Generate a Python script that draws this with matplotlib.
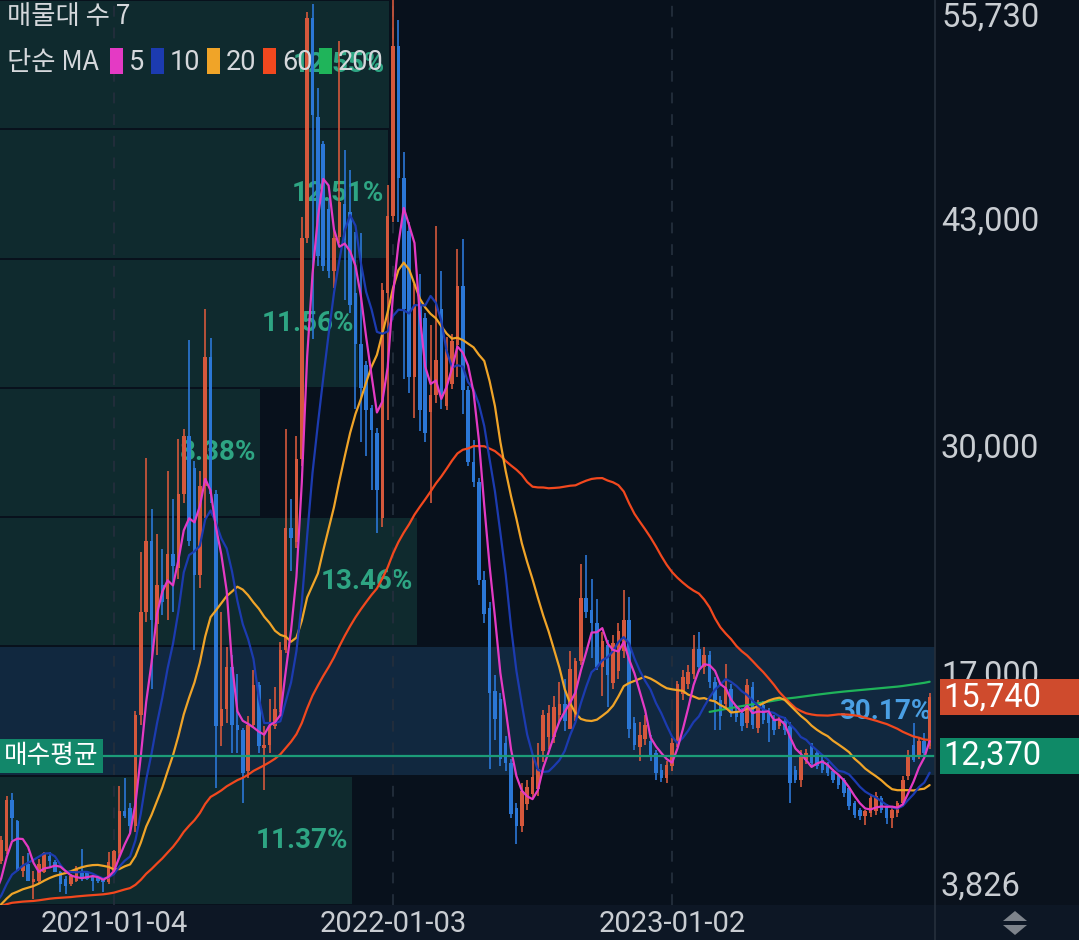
import numpy as np
import pandas as pd
import matplotlib
matplotlib.use('Agg')
import matplotlib.pyplot as plt
from matplotlib.patches import Rectangle, Polygon

plt.rcParams['font.family'] = ['Roboto', 'Noto Sans CJK KR', 'DejaVu Sans']

# ---------------- data ----------------
first_week = '2020-08-10'
tick_dates = ['2021-01-04', '2022-01-03', '2023-01-02']

# weekly closes before the visible window (only feed the moving averages)
hidden_closes = [4100, 4200, 4050, 3950, 4000, 4150, 4300, 4250, 4100, 3980, 3900, 3950, 4050, 4100,
                 4000, 3900, 3850, 3800, 3900, 3950, 3870, 3800, 3750, 3820, 3900, 3850, 3780, 3720,
                 3700, 3650, 3600, 3550, 3500, 3600, 3680, 3720, 3650, 3580, 3520, 3480, 3450, 3500,
                 3560, 3600, 3550, 3500, 3450, 3400,
                 3380, 3350, 3300, 3320, 3400, 3450, 3420, 3380, 3350, 3330,
                 3300, 3350, 3400, 3380, 3450,
                 3800, 4300, 5000, 6200]

opens = [6370, 6950, 9840, 8625, 5800, 6200, 5160, 5220, 5740, 6660, 6310, 5740, 5330, 5040, 5220,
         5740, 5740, 5500, 5450, 5330, 5160,
         5800, 6780, 9200, 9380, 8340, 14750, 20640, 24690, 19950, 22200, 21390, 23930, 23130, 27400,
         30750, 28900, 22780, 27860, 35260, 27400, 14110, 15040, 17460, 14170, 13880, 11510, 14170,
         16420, 12840, 13020, 14110, 15040, 18450, 25440, 24630, 29420, 42070, 54670, 49010, 47450,
         43750, 40170, 42130, 44040, 43580, 38900, 36000, 34800, 32310, 30920, 26010, 38950, 43350,
         53110, 45500, 42480, 34100, 38260, 37510, 32080, 33060, 38000, 32430, 33700, 35950, 39300,
         33350, 29250, 28090, 22490, 20870, 16080, 15620, 13130, 11980, 9380, 8340, 9600, 10170,
         10470, 12670, 13480, 13480, 14750, 15330, 13940, 14630, 17810, 21450, 20760, 20000, 17460,
         18740, 16540, 17230, 18390, 20180, 14290, 12900, 13360, 13250, 12550, 11570, 11110, 11800,
         13130, 15900, 16480, 17060, 18500, 17460, 18160, 16600, 15560, 15330, 16200, 14980, 14860,
         14290, 16310, 14000, 15270, 14860, 14460, 14110, 14400, 14110, 11570, 11000, 12150, 12960,
         12550, 12150, 11860, 11510, 11230, 11000, 10530, 9665, 9260, 8910, 9090, 9200, 9950, 9490,
         8800, 9090, 9670, 11230, 13020, 12440, 13250, 12960]
highs = [7760, 10050, 10240, 8700, 6660, 6780, 5800, 6490, 6890, 6890, 6400, 5800, 5500, 5600, 6080,
         7060, 5800, 5560, 5500, 5400, 6890,
         7000, 10650, 11110, 9670, 14980, 24100, 29480, 26530, 25090, 24220, 28730, 27110, 30580,
         31150, 36240, 29300, 28730, 38000, 36350, 27600, 20640, 18620, 18160, 17060, 14000, 14690,
         17290, 16600, 14110, 15620, 16310, 18910, 31150, 27110, 30750, 43300, 55070, 55480, 50680,
         47620, 44300, 42650, 53400, 47100, 46000, 42400, 42360, 35000, 32500, 31200, 39500, 45140,
         55730, 54600, 47000, 43000, 39420, 40000, 37800, 37100, 42770, 40200, 36400, 36600, 41440,
         42000, 33600, 30500, 28300, 23000, 21200, 17000, 16000, 13500, 12200, 9700, 10800, 11000,
         12300, 13100, 15000, 15300, 15800, 16600, 16800, 18400, 18000, 23410, 23880, 22500, 21400,
         19500, 19000, 19300, 20000, 21910, 21500, 14600, 14300, 14700, 13600, 12700, 11900, 12100,
         13400, 16700, 17300, 17600, 19310, 19490, 18600, 18400, 16900, 15800, 17640, 16500, 15300,
         15100, 16770, 16600, 15600, 15500, 15100, 14700, 14600, 14600, 14300, 11800, 12700, 12800,
         13130, 12700, 12300, 12000, 11600, 11300, 11100, 10600, 9800, 9400, 9300, 10200, 10300,
         10100, 9600, 9400, 9800, 11200, 12700, 14290, 13400, 13700, 16000]
lows = [6200, 6760, 7530, 5750, 5450, 5200, 4180, 5040, 5680, 6030, 5700, 4580, 4470, 4900, 5150,
        5220, 5250, 4640, 5100, 4580, 5040,
        5700, 6600, 8800, 7930, 8000, 14170, 20060, 16200, 18160, 20470, 20180, 20640, 22550, 26900,
        24400, 18450, 21990, 26000, 26900, 10530, 12960, 14290, 12550, 12550, 9665, 11100, 14000,
        12550, 10420, 12550, 13900, 14900, 18300, 23000, 24300, 29000, 41800, 36300, 40500, 40200,
        39800, 39190, 41800, 38550, 37800, 32250, 30400, 29600, 27630, 25150, 25500, 31620, 43000,
        43000, 34000, 33180, 31730, 31000, 30400, 26880, 32600, 32300, 32200, 33400, 34100, 32000,
        29000, 27800, 22200, 20000, 11630, 13300, 11800, 11500, 8800, 7300, 8000, 9300, 9900, 10100,
        12000, 12800, 13100, 14300, 13800, 13900, 14400, 17600, 20300, 18000, 17300, 15800, 15210,
        16200, 16800, 18000, 13400, 12700, 12100, 13000, 12100, 11000, 10900, 10800, 11500, 12900,
        15600, 16200, 16800, 17200, 17100, 16300, 13880, 13880, 15000, 14600, 14300, 13800, 14000,
        13900, 13700, 14200, 13200, 13600, 13900, 13600, 9665, 10800, 10600, 11900, 11800, 11600,
        11400, 11200, 10800, 10500, 10000, 9300, 8800, 8700, 8400, 8900, 9000, 9100, 8500, 8220,
        8900, 9500, 11000, 12000, 12200, 12400, 12800]
closes = [7530, 9840, 8800, 5800, 6080, 5220, 5330, 6200, 6780, 6370, 5740, 5040, 4930, 5500, 5910,
          5450, 5330, 5220, 5220, 5160, 6310,
          6950, 9200, 8910, 8340, 14750, 20640, 24690, 20180, 22200, 21220, 23930, 23240, 27400,
          30750, 24690, 22780, 27860, 35260, 27400, 14110, 15040, 17460, 14170, 13880, 11400, 14170,
          16420, 12960, 13020, 14110, 15040, 18450, 25440, 24860, 29420, 42070, 54670, 49120, 41030,
          40460, 40170, 42070, 44150, 41960, 38260, 36000, 33500, 32200, 31040, 27630, 39070, 43350,
          53110, 45500, 38000, 34100, 38260, 32200, 30920, 33060, 35080, 33000, 35720, 36180, 39300,
          33350, 29250, 28090, 22490, 20530, 15960, 14520, 12210, 11980, 9030, 8340, 10360, 10590,
          11170, 11630, 14750, 14860, 15210, 15330, 14400, 17350, 17810, 21450, 20640, 20000, 17460,
          18970, 17000, 18850, 19540, 20180, 13940, 13020, 13590, 14170, 12440, 11400, 11110, 11860,
          13130, 16480, 16890, 17170, 18500, 17460, 18160, 16600, 15560, 14690, 16310, 14860, 14580,
          14110, 16420, 14170, 15330, 14460, 14290, 13880, 14400, 13880, 10820, 11000, 12380, 12550,
          11980, 11800, 11570, 11400, 11000, 10710, 10240, 9490, 8970, 8910, 9200, 9950, 10070, 9260,
          8800, 9260, 9670, 11000, 12440, 12150, 13250, 12550, 15740]

ma_periods = [5, 10, 20, 60, 200]
ma_colors = ['#e43ac4', '#1c3bb0', '#f0a428', '#f2481e', '#1fb45a']

band_pcts = [11.37, 30.17, 13.46, 8.38, 11.56, 12.51, 12.55]   # bottom -> top
band_labels = ['11.37%', '30.17%', '13.46%', '8.38%', '11.56%', '12.51%', '12.55%']
price_min, price_max = 3826, 55730
axis_ticks = [55730, 43000, 30000, 17000, 3826]
last_price = 15740
avg_price = 12370

# ---------------- figure ----------------
W, H = 1079, 940
fig = plt.figure(figsize=(W / 100, H / 100), dpi=100)
fig.patch.set_facecolor('#0a121d')

PL, PR, PT, PB = 0, 935, 0, 905   # plot rect in pixels
ax = fig.add_axes([PL / W, 1 - PB / H, (PR - PL) / W, (PB - PT) / H])
ax.set_facecolor('#08111c')
for s in ax.spines.values():
    s.set_visible(False)
ax.set_xticks([])
ax.set_yticks([])

n_hidden = len(hidden_closes)
n_vis = len(closes)
xl, xr = -0.24, 174.0
ax.set_xlim(xl, xr)
ax.set_ylim(price_min, price_max)

# volume profile bands
edges = np.linspace(price_min, price_max, len(band_pcts) + 1)
bh = edges[1] - edges[0]
gap = 115
mx = max(band_pcts)
for i, p in enumerate(band_pcts):
    lo_, hi_ = edges[i], edges[i + 1]
    cur = lo_ <= last_price < hi_
    width = p / mx * (xr - xl)
    ax.add_patch(Rectangle((xl, lo_ + gap / 2), width, bh - gap,
                           facecolor='#11283f' if cur else '#0f2a2e', edgecolor='none', zorder=0))
    ax.text(xl + width - 0.7, (lo_ + hi_) / 2, band_labels[i], ha='right', va='center',
            fontsize=20, fontweight='bold', color='#4a9fe3' if cur else '#2ea583', zorder=1,
            family=['Roboto', 'DejaVu Sans'])

# year separators
dates = pd.date_range(first_week, periods=n_vis, freq='7D')
tick_pos = [int(np.where(dates == pd.Timestamp(d))[0][0]) for d in tick_dates]
for tp in tick_pos:
    ax.axvline(tp, color='#232e3c', lw=1.3, ls=(0, (6, 6)), zorder=1)

# candles
xs = np.arange(n_vis)
o = np.array(opens); c = np.array(closes); h = np.array(highs); l = np.array(lows)
up = c >= o
col = np.where(up, '#d5583c', '#2b77d6')
ax.vlines(xs, l, h, colors=col, lw=1.2, zorder=3)
body_lo = np.minimum(o, c)
body_h = np.maximum(np.abs(c - o), 60)
ax.bar(xs, body_h, bottom=body_lo, width=0.66, color=col, edgecolor='none', zorder=3)

# moving averages
all_close = pd.Series(hidden_closes + closes, dtype=float)
x_all = np.arange(-n_hidden, n_vis)
for p, cl in zip(ma_periods[::-1], ma_colors[::-1]):
    ma = all_close.rolling(p).mean()
    ax.plot(x_all, ma, color=cl, lw=1.6, zorder=4, solid_capstyle='round')

# average buy price line
ax.axhline(avg_price, color='#1c9c78', lw=1.6, zorder=5)

fig.canvas.draw()

def ypix(v):
    return H - ax.transData.transform((0, v))[1]

def xpix(v):
    return ax.transData.transform((v, 0))[0]

def box(x0, y0, w, hgt, color, z=6):
    fig.add_artist(Rectangle((x0 / W, 1 - (y0 + hgt) / H), w / W, hgt / H,
                             transform=fig.transFigure, facecolor=color, edgecolor='none', zorder=z))

# bottom strip and right separator
box(0, PB, W, H - PB, '#0d1725', z=0)
fig.add_artist(plt.Line2D([PR / W, PR / W], [0, 1], transform=fig.transFigure, color='#26303c', lw=1.2))

# right axis labels
for t in axis_ticks:
    yp = ypix(t)
    yp = min(max(yp, 18), 887)
    fig.text(941 / W, 1 - yp / H, f'{t:,}', ha='left', va='center', fontsize=23.5, color='#c9cdd2')

# last price box
yp = ypix(last_price)
box(940, yp - 18, W - 940, 36, '#cf4b2d')
fig.text(943 / W, 1 - yp / H, f'{last_price:,}', ha='left', va='center', fontsize=23.5, color='white', zorder=7)
# avg price box
yp = ypix(avg_price)
box(940, yp - 18, W - 940, 36, '#0f8a67')
fig.text(943 / W, 1 - yp / H, f'{avg_price:,}', ha='left', va='center', fontsize=23.5, color='white', zorder=7)
box(0, yp - 17, 103, 34, '#12876a')
fig.text(4 / W, 1 - yp / H, '매수평균', ha='left', va='center', fontsize=18.5, color='white', zorder=7,
         family=['Noto Sans CJK KR'])

# x-axis labels
for tp, d in zip(tick_pos, tick_dates):
    fig.text(xpix(tp) / W, 1 - 924 / H, d, ha='center', va='center', fontsize=21, color='#c9cdd2')

# legend
fig.text(7 / W, 1 - 17 / H, '매물대 수 7', ha='left', va='center', fontsize=19, color='#d5d8dc',
         family=['Noto Sans CJK KR'])
fig.text(7 / W, 1 - 62 / H, '단순 MA', ha='left', va='center', fontsize=19, color='#d5d8dc',
         family=['Noto Sans CJK KR', 'Roboto'])
leg_x = [110, 151, 207, 263, 319]
for lx, p, cl in zip(leg_x, ma_periods, ma_colors):
    box(lx, 48, 13, 26, cl, z=8)
    fig.text((lx + 19) / W, 1 - 62 / H, str(p), ha='left', va='center', fontsize=19.5, color='#d5d8dc', zorder=9)

# scroll arrows
fig.add_artist(Polygon([[1003 / W, 1 - 921 / H], [1027 / W, 1 - 921 / H], [1015 / W, 1 - 911 / H]],
                       closed=True, transform=fig.transFigure, facecolor='#7d838b', edgecolor='none'))
fig.add_artist(Polygon([[1003 / W, 1 - 925 / H], [1027 / W, 1 - 925 / H], [1015 / W, 1 - 935 / H]],
                       closed=True, transform=fig.transFigure, facecolor='#7d838b', edgecolor='none'))

fig.savefig('out.png', dpi=100, facecolor=fig.get_facecolor())
